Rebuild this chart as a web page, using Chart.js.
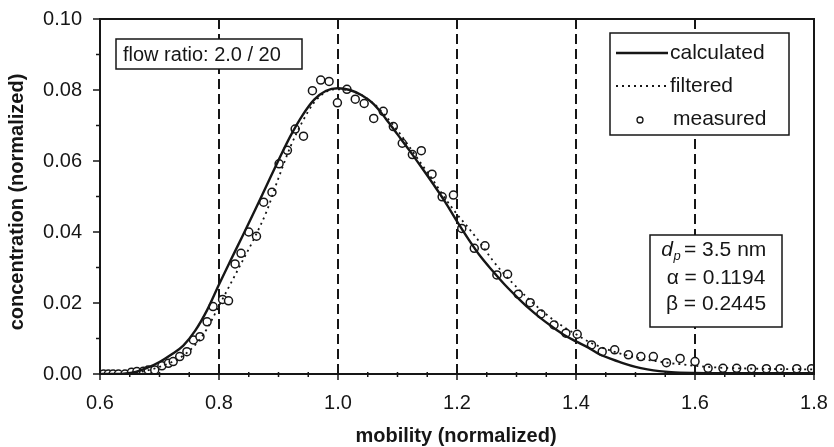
<!DOCTYPE html>
<html>
<head>
<meta charset="utf-8">
<script src="https://cdn.jsdelivr.net/npm/chart.js@4/dist/chart.umd.min.js"></script>
<style>
  html, body { margin: 0; padding: 0; background: #fff; }
  #wrap { width: 834px; height: 447px; }
</style>
</head>
<body>
<div id="wrap"><canvas id="chart" width="834" height="447"></canvas></div>
<script>
// calculated transfer curve
const calcX = [0.60, 0.62, 0.64, 0.66, 0.68, 0.70, 0.72, 0.74, 0.76, 0.78, 0.80, 0.82, 0.84, 0.86, 0.88, 0.90,
  0.92, 0.94, 0.96, 0.98, 1.00, 1.02, 1.04, 1.06, 1.08, 1.10, 1.12, 1.14, 1.16, 1.18, 1.20, 1.22, 1.24, 1.26,
  1.28, 1.30, 1.32, 1.34, 1.36, 1.38, 1.40, 1.42, 1.44, 1.46, 1.48, 1.50, 1.52, 1.54, 1.56, 1.60, 1.70, 1.80];
const calcY = [0, 0, 0.0001, 0.0006, 0.0018, 0.0034, 0.0055, 0.0080, 0.0122, 0.0180, 0.0252, 0.0322, 0.0390,
  0.0460, 0.0531, 0.0602, 0.0670, 0.0728, 0.0773, 0.0798, 0.0805, 0.0800, 0.0785, 0.0760, 0.0720, 0.0675,
  0.0630, 0.0583, 0.0535, 0.0485, 0.0430, 0.0378, 0.0330, 0.0290, 0.0252, 0.0218, 0.0186, 0.0158, 0.0133,
  0.0110, 0.0092, 0.0075, 0.0055, 0.0042, 0.0030, 0.0020, 0.0013, 0.0008, 0.0005, 0.0003, 0.0002, 0.0002];

// filtered curve
const filtX = [0.60, 0.64, 0.66, 0.68, 0.70, 0.72, 0.74, 0.76, 0.78, 0.80, 0.82, 0.84, 0.86, 0.88, 0.90, 0.92,
  0.94, 0.96, 0.98, 1.00, 1.02, 1.04, 1.06, 1.08, 1.10, 1.12, 1.14, 1.16, 1.18, 1.20, 1.22, 1.24, 1.26, 1.28,
  1.30, 1.32, 1.34, 1.36, 1.38, 1.40, 1.42, 1.44, 1.46, 1.48, 1.50, 1.52, 1.54, 1.56, 1.58, 1.60, 1.64, 1.70, 1.80];
const filtY = [0, 0, 0.0004, 0.0010, 0.0020, 0.0033, 0.0052, 0.0082, 0.0128, 0.0192, 0.0256, 0.0320, 0.0385,
  0.0458, 0.0552, 0.0640, 0.0710, 0.0765, 0.0795, 0.0802, 0.0798, 0.0785, 0.0762, 0.0727, 0.0686, 0.0640,
  0.0592, 0.0545, 0.0495, 0.0450, 0.0410, 0.0367, 0.0320, 0.0280, 0.0245, 0.0212, 0.0182, 0.0155, 0.0132,
  0.0112, 0.0092, 0.0077, 0.0065, 0.0055, 0.0047, 0.0040, 0.0035, 0.0030, 0.0027, 0.0023, 0.0018, 0.0015, 0.0013];

// measured points
const measX = [0.598, 0.606, 0.614, 0.622, 0.631, 0.642, 0.653, 0.662, 0.673, 0.681, 0.692, 0.704, 0.715,
  0.723, 0.734, 0.746, 0.757, 0.768, 0.780, 0.790, 0.806, 0.816, 0.827, 0.837, 0.850, 0.863, 0.875, 0.889,
  0.901, 0.915, 0.928, 0.942, 0.957, 0.971, 0.985, 0.999, 1.015, 1.029, 1.044, 1.060, 1.076, 1.093, 1.108,
  1.125, 1.140, 1.158, 1.175, 1.194, 1.208, 1.229, 1.247, 1.267, 1.285, 1.303, 1.323, 1.341, 1.363, 1.383,
  1.402, 1.426, 1.444, 1.465, 1.488, 1.509, 1.530, 1.552, 1.575, 1.600, 1.622, 1.647, 1.670, 1.695, 1.720,
  1.743, 1.771, 1.796];
const measY = [0, 0, 0, 0, 0, 0, 0.0005, 0.0007, 0.0008, 0.0011, 0.0011, 0.0023, 0.0030, 0.0035, 0.0049,
  0.0063, 0.0096, 0.0105, 0.0147, 0.0190, 0.0210, 0.0206, 0.0310, 0.0340, 0.0400, 0.0388, 0.0484, 0.0512,
  0.0592, 0.0630, 0.0690, 0.0670, 0.0798, 0.0828, 0.0824, 0.0764, 0.0802, 0.0774, 0.0762, 0.0720, 0.0740,
  0.0697, 0.0650, 0.0618, 0.0629, 0.0563, 0.0499, 0.0504, 0.0410, 0.0354, 0.0361, 0.0279, 0.0281, 0.0225,
  0.0201, 0.0169, 0.0138, 0.0115, 0.0112, 0.0082, 0.0063, 0.0068, 0.0054, 0.0049, 0.0049, 0.0032, 0.0044,
  0.0035, 0.0016, 0.0016, 0.0016, 0.0015, 0.0015, 0.0015, 0.0015, 0.0015];

const xTicks = [0.6, 0.8, 1.0, 1.2, 1.4, 1.6, 1.8];
const yTicks = [0, 0.02, 0.04, 0.06, 0.08, 0.10];
const seriesNames = ['calculated', 'filtered', 'measured'];
const flowLabel = 'flow ratio: 2.0 / 20';

const INK = '#161616';
const FONT = '"Liberation Sans", Arial, sans-serif';

const toPoints = (xs, ys) => xs.map((x, i) => ({ x: x, y: ys[i] }));

// axes frame, ticks, dashed verticals, titles, boxes
const decor = {
  id: 'decor',
  beforeDatasetsDraw(chart) {
    const { ctx, chartArea: a, scales: { x } } = chart;
    ctx.save();
    ctx.strokeStyle = INK;
    ctx.lineWidth = 2;
    ctx.setLineDash([10, 5]);
    xTicks.slice(1, -1).forEach(v => {
      const px = Math.round(x.getPixelForValue(v));
      ctx.beginPath();
      ctx.moveTo(px, a.top);
      ctx.lineTo(px, a.bottom);
      ctx.stroke();
    });
    ctx.setLineDash([]);
    ctx.restore();
  },
  afterDatasetsDraw(chart) {
    const { ctx, chartArea: a, scales: { x, y } } = chart;
    ctx.save();
    ctx.strokeStyle = INK;
    ctx.lineWidth = 2;
    ctx.strokeRect(a.left, a.top, a.right - a.left, a.bottom - a.top);

    // tick marks
    ctx.lineWidth = 1.5;
    for (let v = 0.6; v <= 1.8001; v += 0.05) {
      const px = x.getPixelForValue(v);
      const major = Math.abs(v * 5 - Math.round(v * 5)) < 1e-6;
      ctx.beginPath();
      ctx.moveTo(px, a.bottom - (major ? 3 : 2));
      ctx.lineTo(px, a.bottom + (major ? 6 : 3));
      ctx.stroke();
    }
    for (let v = 0; v <= 0.1001; v += 0.01) {
      const py = y.getPixelForValue(v);
      const major = Math.round(v * 100) % 2 === 0;
      ctx.beginPath();
      ctx.moveTo(a.left - (major ? 7 : 4), py);
      ctx.lineTo(a.left, py);
      ctx.stroke();
    }

    // axis titles
    ctx.fillStyle = INK;
    ctx.font = 'bold 20px ' + FONT;
    ctx.textAlign = 'center';
    ctx.textBaseline = 'middle';
    ctx.fillText('mobility (normalized)', 456, 436);
    ctx.save();
    ctx.translate(17, 202);
    ctx.rotate(-Math.PI / 2);
    ctx.fillText('concentration (normalized)', 0, 0);
    ctx.restore();

    // flow ratio box
    ctx.lineWidth = 1.5;
    ctx.fillStyle = '#fff';
    ctx.fillRect(116, 39, 186, 30);
    ctx.strokeRect(116, 39, 186, 30);
    ctx.fillStyle = INK;
    ctx.font = '20px ' + FONT;
    ctx.textAlign = 'left';
    ctx.fillText(flowLabel, 123, 55);

    // legend
    ctx.fillStyle = '#fff';
    ctx.fillRect(610, 33, 179, 102);
    ctx.strokeRect(610, 33, 179, 102);
    ctx.fillStyle = INK;
    ctx.font = '21px ' + FONT;
    const rows = [53, 86, 119];
    chart.data.datasets.forEach((ds, i) => {
      const ry = rows[i];
      if (i < 2) {
        ctx.strokeStyle = INK;
        ctx.lineWidth = ds.borderWidth;
        ctx.setLineDash(ds.borderDash || []);
        ctx.beginPath();
        ctx.moveTo(616, ry);
        ctx.lineTo(668, ry);
        ctx.stroke();
        ctx.setLineDash([]);
      } else {
        ctx.lineWidth = 1.3;
        ctx.beginPath();
        ctx.arc(640, ry + 1, 3, 0, Math.PI * 2);
        ctx.stroke();
      }
      ctx.fillText(ds.label, i === 2 ? 673 : 670, ry);
    });

    // parameter box
    ctx.lineWidth = 1.5;
    ctx.fillStyle = '#fff';
    ctx.fillRect(650, 235, 132, 92);
    ctx.strokeRect(650, 235, 132, 92);
    ctx.fillStyle = INK;
    ctx.textAlign = 'center';
    ctx.font = 'italic 21px ' + FONT;
    ctx.fillText('d', 667, 250);
    ctx.font = 'italic 13px ' + FONT;
    ctx.fillText('p', 677, 256);
    ctx.font = '21px ' + FONT;
    ctx.textAlign = 'left';
    ctx.fillText('= 3.5 nm', 684, 250);
    ctx.textAlign = 'center';
    ctx.fillText('\u03b1 = 0.1194', 716, 278);
    ctx.fillText('\u03b2 = 0.2445', 716, 304);
    ctx.restore();
  }
};

new Chart(document.getElementById('chart'), {
  type: 'scatter',
  data: {
    datasets: [
      {
        label: seriesNames[0],
        data: toPoints(calcX, calcY),
        showLine: true,
        borderColor: INK,
        borderWidth: 2.4,
        pointRadius: 0,
        cubicInterpolationMode: 'monotone',
        tension: 0.4
      },
      {
        label: seriesNames[1],
        data: toPoints(filtX, filtY),
        showLine: true,
        borderColor: INK,
        borderWidth: 1.8,
        borderDash: [2, 4],
        pointRadius: 0,
        cubicInterpolationMode: 'monotone',
        tension: 0.4
      },
      {
        label: seriesNames[2],
        data: toPoints(measX, measY),
        showLine: false,
        pointRadius: 4,
        pointBorderWidth: 1.5,
        pointBorderColor: INK,
        pointBackgroundColor: '#fff'
      }
    ]
  },
  options: {
    responsive: false,
    animation: false,
    devicePixelRatio: 1,
    layout: { padding: { left: 0, right: 20, top: 19, bottom: 0 } },
    plugins: { legend: { display: false }, tooltip: { enabled: false } },
    scales: {
      x: {
        type: 'linear',
        min: 0.6,
        max: 1.8,
        afterFit: s => { s.height = 73; s.paddingLeft = 0; s.paddingRight = 0; },
        afterBuildTicks: s => { s.ticks = xTicks.map(v => ({ value: v })); },
        grid: { display: false, drawTicks: false },
        border: { display: false },
        ticks: {
          color: INK,
          padding: 17,
          maxRotation: 0,
          font: { family: FONT, size: 20 },
          callback: v => Number(v).toFixed(1)
        }
      },
      y: {
        min: 0,
        max: 0.1,
        afterFit: s => { s.width = 100; s.paddingTop = 0; s.paddingBottom = 0; },
        afterBuildTicks: s => { s.ticks = yTicks.map(v => ({ value: v })); },
        grid: { display: false, drawTicks: false },
        border: { display: false },
        ticks: {
          color: INK,
          padding: 18,
          font: { family: FONT, size: 20 },
          callback: v => Number(v).toFixed(2)
        }
      }
    }
  },
  plugins: [decor]
});
</script>
</body>
</html>
